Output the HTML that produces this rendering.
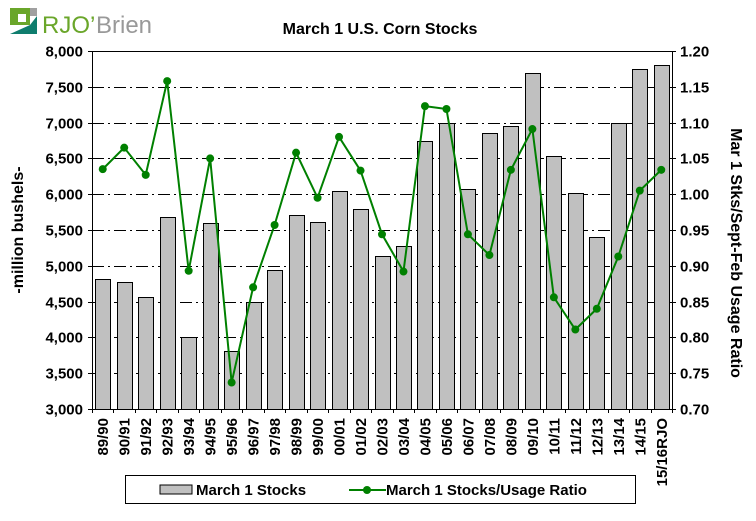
<!DOCTYPE html>
<html><head><meta charset="utf-8"><style>
body{margin:0;background:#fff;width:756px;height:516px;overflow:hidden;font-family:"Liberation Sans",Arial,sans-serif}
text{font-family:"Liberation Sans",Arial,sans-serif}
</style></head><body>
<svg id="chart" width="756" height="516" xmlns="http://www.w3.org/2000/svg">
<g>
<rect x="10" y="8" width="20" height="17" fill="#6aa62a"/>
<rect x="30" y="8" width="7" height="8" fill="#a0a0a0"/>
<polygon points="10,34 30,25 37,16 37,34" fill="#0f7d6e"/>
<rect x="18" y="14" width="8" height="8" fill="#fff"/>
<text x="42" y="33" font-size="24" fill="#6aa62a" font-family="Liberation Serif">RJO’</text>
<text x="96" y="33" font-size="24" fill="#999" font-family="Liberation Serif">Brien</text>
</g>
<text x="380" y="34" text-anchor="middle" font-size="16" font-weight="bold">March 1 U.S. Corn Stocks</text>
<g id="grid"></g><g id="bars"></g><g id="axes"></g><g id="line"></g>
<text transform="translate(23,230) rotate(-90)" text-anchor="middle" font-size="16" font-weight="bold">-million bushels-</text>
<text transform="translate(731,253) rotate(90)" text-anchor="middle" font-size="16" font-weight="bold">Mar 1 Stks/Sept-Feb Usage Ratio</text>
<g>
<rect x="125.5" y="475.5" width="510" height="28" fill="#fff" stroke="#000"/>
<rect x="160" y="485" width="32" height="9" fill="#c0c0c0" stroke="#000"/>
<text x="196" y="495" font-size="15" font-weight="bold">March 1 Stocks</text>
<line x1="349" y1="490" x2="386" y2="490" stroke="#008000" stroke-width="2"/>
<circle cx="367" cy="490" r="4" fill="#008000"/>
<text x="386" y="495" font-size="15" font-weight="bold">March 1 Stocks/Usage Ratio</text>
</g>
</svg>
<script>
const categories=["89/90","90/91","91/92","92/93","93/94","94/95","95/96","96/97","97/98","98/99","99/00","00/01","01/02","02/03","03/04","04/05","05/06","06/07","07/08","08/09","09/10","10/11","11/12","12/13","13/14","14/15","15/16RJO"];
const stocks=[4810,4780,4560,5680,4000,5600,3810,4490,4940,5710,5610,6050,5790,5130,5270,6750,7000,6070,6860,6950,7690,6530,6020,5400,7000,7750,7810];
const ratio=[1.035,1.065,1.027,1.158,0.893,1.050,0.737,0.870,0.957,1.058,0.995,1.080,1.033,0.944,0.892,1.123,1.119,0.944,0.915,1.034,1.091,0.856,0.811,0.840,0.913,1.005,1.034];
const leftTicks=[3000,3500,4000,4500,5000,5500,6000,6500,7000,7500,8000];
const rightTicks=[0.70,0.75,0.80,0.85,0.90,0.95,1.00,1.05,1.10,1.15,1.20];
const L=92,R=672,T=51,B=409;
const NS="http://www.w3.org/2000/svg";
const yL=v=>B-(v-3000)/5000*(B-T);
const yR=v=>B-(v-0.7)/0.5*(B-T);
const bw=(R-L)/categories.length;
const xC=i=>L+bw*(i+0.5);
function mk(tag,attrs,parent){const e=document.createElementNS(NS,tag);for(const k in attrs)e.setAttribute(k,attrs[k]);document.getElementById(parent).appendChild(e);return e;}
leftTicks.forEach((v,i)=>{
 const y=Math.round(yL(v))+0.5;
 if(i>0&&i<leftTicks.length-1){const g=mk('line',{x1:L,x2:R,y1:y,y2:y,stroke:'#000','stroke-dasharray':'12,4,2,4'},'grid');
 
 }
 mk('line',{x1:L-4,x2:L,y1:y,y2:y,stroke:'#000'},'axes');
 const t=mk('text',{x:L-9,y:y+5,'text-anchor':'end','font-size':'15','font-weight':'bold'},'axes');t.textContent=v.toLocaleString('en-US');
 
 
});
rightTicks.forEach(v=>{
 const y=Math.round(yR(v))+0.5;
 mk('line',{x1:R,x2:R+4,y1:y,y2:y,stroke:'#000'},'axes');
 const t=mk('text',{x:R+8,y:y+5,'font-size':'15','font-weight':'bold'},'axes');t.textContent=v.toFixed(2);
 
 
});
mk('line',{x1:L,x2:R,y1:T+0.5,y2:T+0.5,stroke:'#000'},'axes');
mk('line',{x1:L,x2:R,y1:B+0.5,y2:B+0.5,stroke:'#000'},'axes');
mk('line',{x1:L+0.5,x2:L+0.5,y1:T,y2:B+4,stroke:'#000'},'axes');
mk('line',{x1:R+0.5,x2:R+0.5,y1:T,y2:B+4,stroke:'#000'},'axes');
categories.forEach((c,i)=>{
 const x=Math.round(L+bw*i)+0.5;
 mk('line',{x1:x,x2:x,y1:B,y2:B+4,stroke:'#000'},'axes');
 const y=yL(stocks[i]);
 const b=mk('rect',{x:Math.round(xC(i)-7.5)+0.5,y:Math.round(y)+0.5,width:15,height:B-Math.round(y),fill:'#c0c0c0',stroke:'#000'},'bars');
 
 
 const t=mk('text',{transform:`translate(${xC(i)+5.5},418) rotate(-90)`,'text-anchor':'end','font-size':'15','font-weight':'bold'},'axes');t.textContent=c;
 
 
});
const pts=ratio.map((v,i)=>xC(i)+','+yR(v)).join(' ');
const pl=mk('polyline',{points:pts,fill:'none',stroke:'#008000','stroke-width':2},'line');


ratio.forEach((v,i)=>{const c=mk('circle',{cx:xC(i),cy:yR(v),r:4,fill:'#008000'},'line');
 
 });
</script>
</body></html>
